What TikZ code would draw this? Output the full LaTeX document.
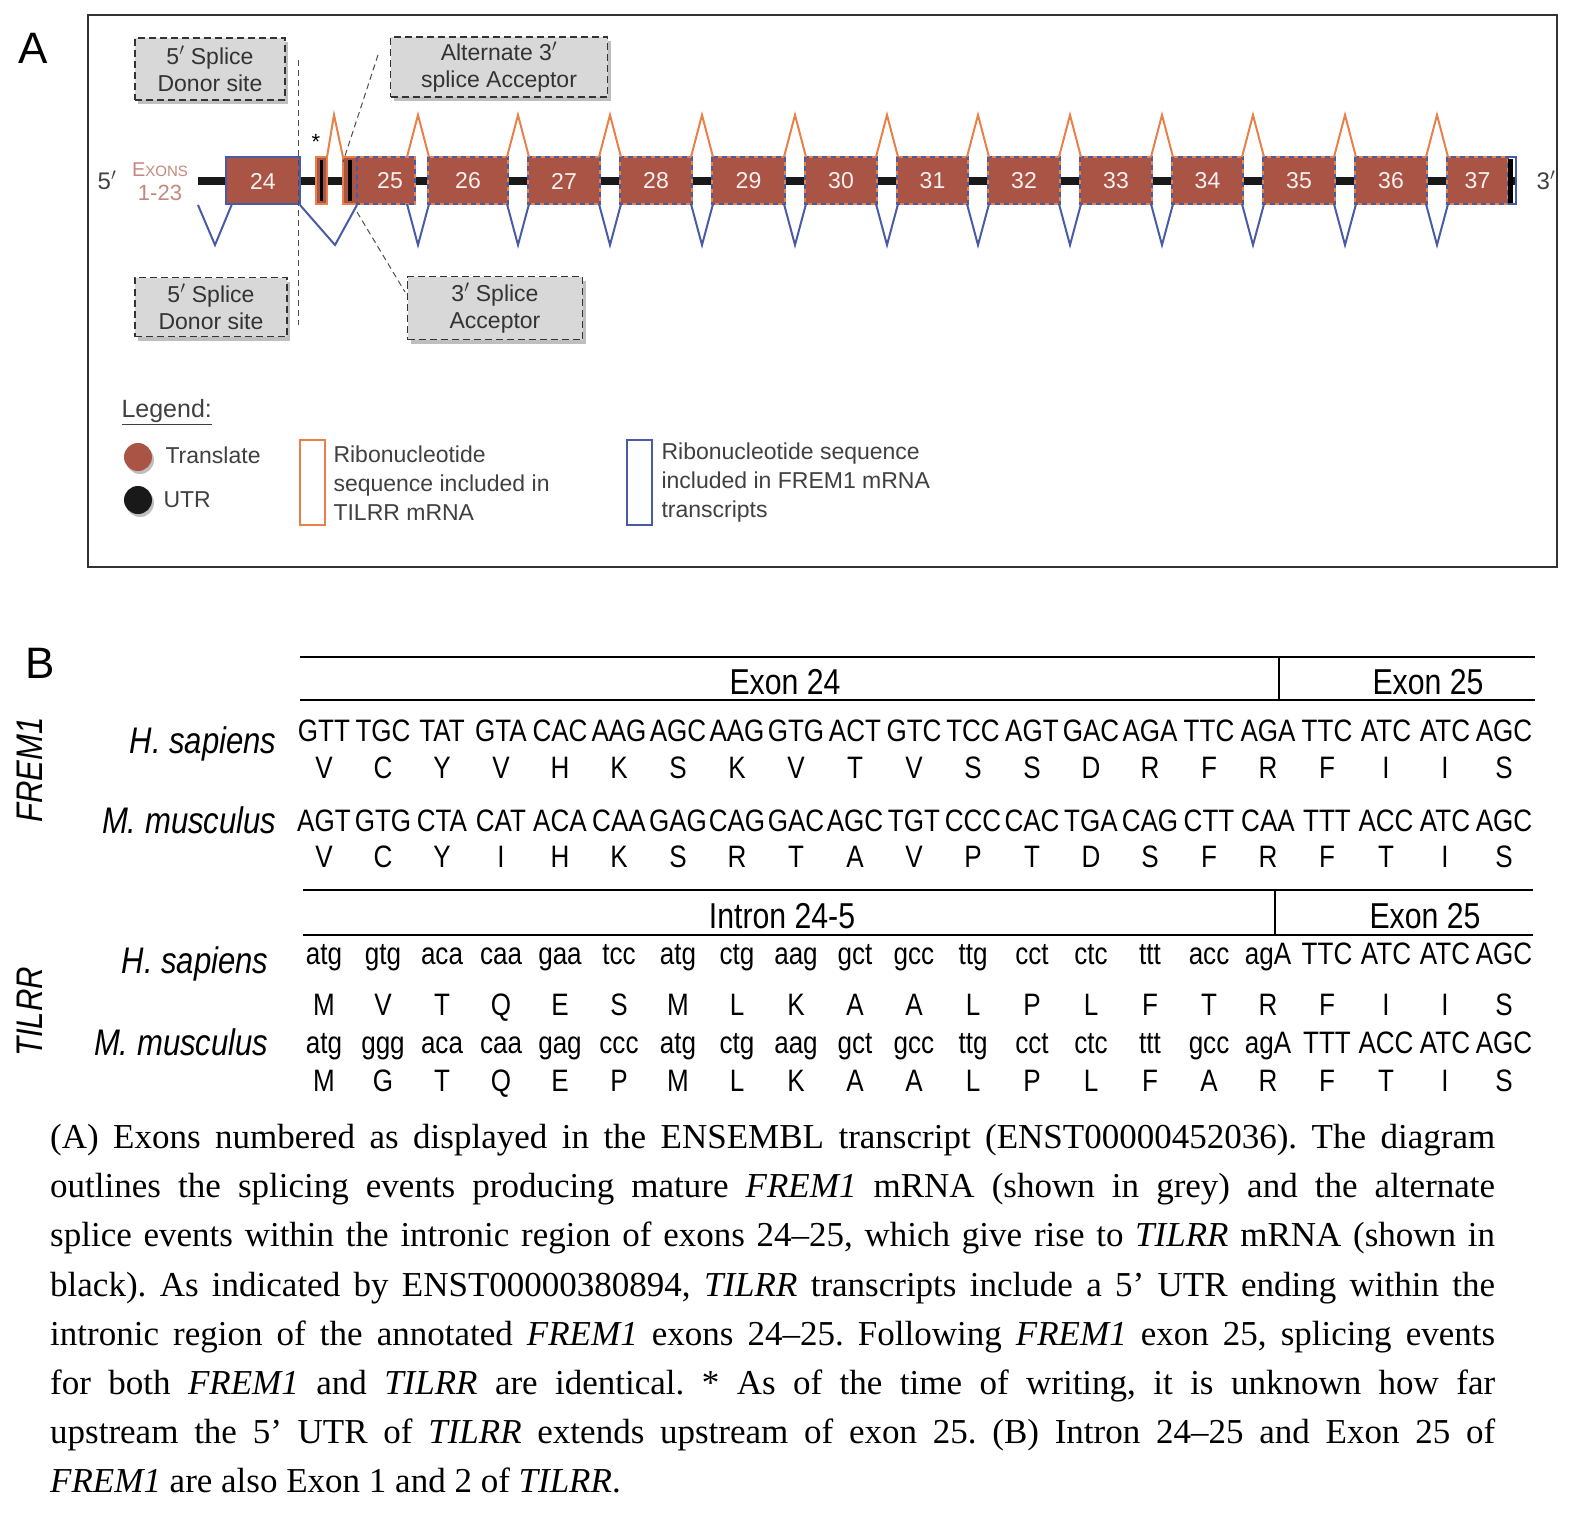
\documentclass[tikz,border=0pt]{standalone}
\usepackage{fontspec}
\setmainfont{Liberation Serif}
\newfontfamily\ars{Liberation Sans}
\newfontfamily\nar{Liberation Sans}[FakeStretch=0.84]
\definecolor{exf}{RGB}{170,84,70}
\definecolor{orng}{RGB}{232,128,74}
\definecolor{blu}{RGB}{72,92,166}
\definecolor{boxg}{RGB}{216,216,216}
\frenchspacing
\begin{document}
\begin{tikzpicture}[x=1pt,y=-1pt,
  call/.style={draw=black!80,dash pattern=on 7pt off 4pt,line width=1.3pt,fill=boxg,align=center,font=\ars\fontsize{23}{27}\selectfont,text=black!80},
  dl/.style={dash pattern=on 6pt off 4pt,line width=1pt,black!70},
  ex/.style={fill=exf,draw=orng,line width=1.6pt},
  exb/.style={draw=blu,dash pattern=on 5pt off 4pt,line width=1.6pt},
  num/.style={text=white!92!exf,font=\ars\fontsize{23}{27}\selectfont},
  org/.style={orng,line width=2pt},
  bl/.style={blu,line width=2pt},
  cod/.style={font=\nar\fontsize{31}{31}\selectfont,anchor=base},
  lab/.style={font=\nar\itshape\fontsize{37}{37}\selectfont,anchor=base east},
  hd/.style={font=\nar\fontsize{36}{36}\selectfont,anchor=base},
  cl/.style={anchor=base west,inner sep=0pt,font=\fontsize{35}{40}\selectfont}]
\useasboundingbox (0,0) rectangle (1588,1525);
\node[font=\ars\fontsize{44}{44}\selectfont] (lA) at (33,48) {A};
\draw[line width=2.5pt,black!80] (88,15) rectangle (1557,567);
\draw[line width=8pt,black!90] (198,181) -- (1515,181);
\draw[fill=exf,draw=blu,line width=1.8pt] (226,157) rectangle (300,204);
\node[num] (n24) at (263,181) {24};
\draw[fill=exf,draw=orng,line width=1.6pt] (316,157) rectangle (327,204);
\draw[line width=3pt,black] (321,160) -- (321,201);
\draw[ex] (343,157) rectangle (415,204);
\draw[line width=4pt,black] (350,160) -- (350,201);
\draw[exb] (357,157) rectangle (415,204);
\node[num] (n25) at (390,181) {25};
\foreach \a/\b/\n in {428/508/26,528/600/27,620/692/28,712/785/29,805/877/30,897/968/31,988/1060/32,1080/1152/33,1172/1243/34,1263/1335/35,1355/1427/36,1447/1508/37}{
  \draw[ex] (\a,157) rectangle (\b,204);
  \draw[exb] (\a,157) rectangle (\b,204);
  \node[num] at ({(\a+\b)/2},181) {\n};
}
\draw[line width=5pt,black] (1510,159) -- (1510,203);
\draw[blu,line width=1.2pt] (1508,157) -- (1516,157) -- (1516,204) -- (1508,204);
\draw[org] (327,157) -- (334,115) -- (343,157);
\foreach \g in {418,518,610,702,795,887,978,1070,1162,1253,1345,1437}{
  \draw[org] (\g-11,157) -- (\g,115) -- (\g+11,157);
  \draw[bl] (\g-11,204) -- (\g,245) -- (\g+11,204);
}
\draw[bl] (198,205) -- (215,245) -- (232,204);
\draw[bl] (300,205) -- (335,245) -- (357,205);
\node[font=\ars\fontsize{24}{24}\selectfont,text=black!75] (t5) at (107,180) {5$'$};
\node[font=\ars\fontsize{20}{20}\selectfont,text=exf!70] (tex) at (160,170) {E{\fontsize{15}{15}\selectfont XONS}};
\node[font=\ars\fontsize{22}{22}\selectfont,text=exf!70] (t123) at (160,193) {1-23};
\node[font=\ars\fontsize{24}{24}\selectfont,text=black!75] (t3) at (1546,180) {3$'$};
\node[font=\ars\fontsize{22}{22}\selectfont] (ast) at (316,142) {*};
\foreach \x/\y/\w/\h in {210/69/150/62,499/67/217/60,211/307/152/59,495/308/175/63}
  \fill[black!25] (\x-\w/2+3,\y-\h/2+4) rectangle (\x+\w/2+3,\y+\h/2+4);
\node[call,minimum width=150pt,minimum height=62pt] (c1) at (210,69) {5$'$ Splice\\Donor site};
\node[call,minimum width=217pt,minimum height=60pt] (c2) at (499,67) {Alternate 3$'$\\splice Acceptor};
\node[call,minimum width=152pt,minimum height=59pt] (c3) at (211,307) {5$'$ Splice\\Donor site};
\node[call,minimum width=175pt,minimum height=63pt] (c4) at (495,308) {3$'$ Splice\\Acceptor};
\coordinate (d1a) at (298,60); \coordinate (d1b) at (298,325);
\coordinate (d2a) at (378,55); \coordinate (d2b) at (343,162);
\coordinate (d3a) at (357,212); \coordinate (d3b) at (405,292);
\draw[dl] (d1a) -- (d1b);
\draw[dl] (d2a) -- (d2b);
\draw[dl] (d3a) -- (d3b);
\node[font=\ars\fontsize{25}{25}\selectfont,text=black!75,anchor=west] (lg) at (118,412) {\underline{Legend:}};
\fill[black!25] (140,460) circle (14);
\fill[black!25] (140,503) circle (14);
\fill[exf] (138,457) circle (14);
\fill[black!90] (138,500) circle (14);
\node[font=\ars\fontsize{23}{23}\selectfont,text=black!75,anchor=west] (lt) at (162,455) {Translate};
\node[font=\ars\fontsize{23}{23}\selectfont,text=black!75,anchor=west] (lu) at (160,500) {UTR};
\draw[orng,line width=2.5pt] (300,440) rectangle (325,525);
\draw[blu,line width=2.5pt] (627,440) rectangle (652,525);
\node[font=\ars\fontsize{23}{29}\selectfont,text=black!75,anchor=west,align=left] (lo) at (330,483) {Ribonucleotide\\sequence included in\\TILRR mRNA};
\node[font=\ars\fontsize{23}{29}\selectfont,text=black!75,anchor=west,align=left] (lb) at (658,483) {Ribonucleotide sequence\\included in FREM1 mRNA\\transcripts};
\node[font=\ars\fontsize{44}{44}\selectfont] (lB) at (40,663) {B};
\draw[line width=1.8pt] (300,657) -- (1535,657) (300,700) -- (1535,700) (1279,657) -- (1279,700);
\node[hd] (h1) at (785,694) {Exon 24};
\node[hd] (h2) at (1428,694) {Exon 25};
\draw[line width=1.8pt] (303,890) -- (1533,890) (303,935) -- (1533,935) (1275,890) -- (1275,935);
\node[hd] (h3) at (782,928) {Intron 24-5};
\node[hd] (h4) at (1425,928) {Exon 25};
\node[lab] (s1) at (280,753) {H. sapiens};
\node[lab] (s2) at (280,833) {M. musculus};
\node[lab] (s3) at (272,973) {H. sapiens};
\node[lab] (s4) at (272,1055) {M. musculus};
\node[font=\nar\itshape\fontsize{37}{37}\selectfont,rotate=90] (g1) at (30,770) {FREM1};
\node[font=\nar\itshape\fontsize{37}{37}\selectfont,rotate=90] (g2) at (30,1012) {TILRR};
\foreach \c [count=\i from 0] in {GTT,TGC,TAT,GTA,CAC,AAG,AGC,AAG,GTG,ACT,GTC,TCC,AGT,GAC,AGA,TTC,AGA,TTC,ATC,ATC,AGC}
  \node[cod] at (324+59*\i,741) {\c};
\foreach \c [count=\i from 0] in {V,C,Y,V,H,K,S,K,V,T,V,S,S,D,R,F,R,F,I,I,S}
  \node[cod] at (324+59*\i,778) {\c};
\foreach \c [count=\i from 0] in {AGT,GTG,CTA,CAT,ACA,CAA,GAG,CAG,GAC,AGC,TGT,CCC,CAC,TGA,CAG,CTT,CAA,TTT,ACC,ATC,AGC}
  \node[cod] at (324+59*\i,831) {\c};
\foreach \c [count=\i from 0] in {V,C,Y,I,H,K,S,R,T,A,V,P,T,D,S,F,R,F,T,I,S}
  \node[cod] at (324+59*\i,867) {\c};
\foreach \c [count=\i from 0] in {atg,gtg,aca,caa,gaa,tcc,atg,ctg,aag,gct,gcc,ttg,cct,ctc,ttt,acc,agA,TTC,ATC,ATC,AGC}
  \node[cod] at (324+59*\i,964) {\c};
\foreach \c [count=\i from 0] in {M,V,T,Q,E,S,M,L,K,A,A,L,P,L,F,T,R,F,I,I,S}
  \node[cod] at (324+59*\i,1015) {\c};
\foreach \c [count=\i from 0] in {atg,ggg,aca,caa,gag,ccc,atg,ctg,aag,gct,gcc,ttg,cct,ctc,ttt,gcc,agA,TTT,ACC,ATC,AGC}
  \node[cod] at (324+59*\i,1053) {\c};
\foreach \c [count=\i from 0] in {M,G,T,Q,E,P,M,L,K,A,A,L,P,L,F,A,R,F,T,I,S}
  \node[cod] at (324+59*\i,1091) {\c};
\node[cl] (cp1) at (50,1148) {\makebox[1445pt][s]{(A) Exons numbered as displayed in the ENSEMBL transcript (ENST00000452036). The diagram}};
\node[cl] (cp2) at (50,1197) {\makebox[1445pt][s]{outlines the splicing events producing mature \emph{FREM1} mRNA (shown in grey) and the alternate}};
\node[cl] (cp3) at (50,1246) {\makebox[1445pt][s]{splice events within the intronic region of exons 24–25, which give rise to \emph{TILRR} mRNA (shown in}};
\node[cl] (cp4) at (50,1296) {\makebox[1445pt][s]{black). As indicated by ENST00000380894, \emph{TILRR} transcripts include a 5' UTR ending within the}};
\node[cl] (cp5) at (50,1345) {\makebox[1445pt][s]{intronic region of the annotated \emph{FREM1} exons 24–25. Following \emph{FREM1} exon 25, splicing events}};
\node[cl] (cp6) at (50,1394) {\makebox[1445pt][s]{for both \emph{FREM1} and \emph{TILRR} are identical. * As of the time of writing, it is unknown how far}};
\node[cl] (cp7) at (50,1443) {\makebox[1445pt][s]{upstream the 5' UTR of \emph{TILRR} extends upstream of exon 25. (B) Intron 24–25 and Exon 25 of}};
\node[cl] (cp8) at (50,1492) {\emph{FREM1} are also Exon 1 and 2 of \emph{TILRR}.};
\end{tikzpicture}
\end{document}
